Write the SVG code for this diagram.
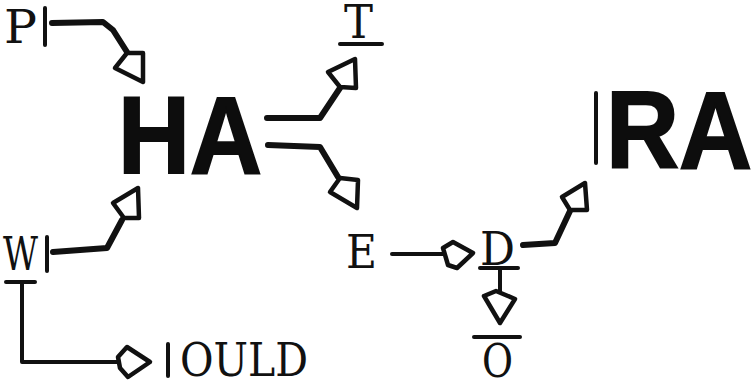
<svg xmlns="http://www.w3.org/2000/svg" width="756" height="385" viewBox="0 0 756 385">
<style>
.tw{font-family:"DejaVu Serif","Liberation Serif",serif;font-size:46px;fill:#111}
.big{font-family:"Liberation Sans",Arial,sans-serif;font-weight:bold;font-size:110px;fill:#0d0d0d;stroke:#0d0d0d;stroke-width:2}
.ln{fill:none;stroke:#111;stroke-width:6;stroke-linecap:round;stroke-linejoin:round}
.thin{stroke-width:4}
.bar{stroke:#111;stroke-width:4;stroke-linecap:round}
.ah{fill:#fff;stroke:#111;stroke-width:4.5;stroke-linejoin:round}
</style>
<rect width="756" height="385" fill="#fff"/>
<g id="node-P"><text class="tw" x="4" y="43" textLength="33" lengthAdjust="spacingAndGlyphs">P</text><line class="bar" x1="45" y1="8" x2="45" y2="45"/></g>
<g id="node-HA"><text class="big" x="118" y="173" textLength="144" lengthAdjust="spacingAndGlyphs">HA</text></g>
<g id="node-T"><text class="tw" x="344" y="38" textLength="29" lengthAdjust="spacingAndGlyphs">T</text><line class="bar" x1="340" y1="44" x2="382" y2="44"/></g>
<g id="node-W"><text class="tw" x="3" y="270" textLength="35" lengthAdjust="spacingAndGlyphs">W</text><line class="bar" x1="47" y1="237" x2="47" y2="271"/><line class="bar" x1="6" y1="282" x2="35" y2="282"/></g>
<g id="node-OULD"><line class="bar" x1="168" y1="344" x2="168" y2="376"/><text class="tw" x="180" y="376" textLength="128" lengthAdjust="spacingAndGlyphs">OULD</text></g>
<g id="node-E"><text class="tw" x="346" y="268" textLength="31" lengthAdjust="spacingAndGlyphs">E</text></g>
<g id="node-D"><text class="tw" x="480" y="265" textLength="35" lengthAdjust="spacingAndGlyphs">D</text><line class="bar" x1="480" y1="268" x2="518" y2="268"/></g>
<g id="node-O"><line class="bar" x1="474" y1="337" x2="520" y2="337"/><text class="tw" x="482" y="377" textLength="31" lengthAdjust="spacingAndGlyphs">O</text></g>
<g id="node-RA"><line class="bar" x1="596" y1="93" x2="596" y2="163"/><text class="big" x="606" y="168" textLength="146" lengthAdjust="spacingAndGlyphs">RA</text></g>
<g id="connectors">
<path class="ln" d="M52,23 L103,22 L113,30 L127,52"/>
<polygon class="ah" points="127,53 115,68 143,82 143,53"/>
<path class="ln" d="M53,252 L107,248 L122,220"/>
<polygon class="ah" points="124,218 113,203 138,188 139,218"/>
<path class="ln" d="M267,118 L320,118 L340,88"/>
<polygon class="ah" points="340,87 328,72 355,59 356,88"/>
<path class="ln" d="M268,145 L320,147 L338,177"/>
<polygon class="ah" points="340,178 330,192 357,208 358,180"/>
<path class="ln thin" d="M22,282 L22,362 L118,362"/>
<polygon class="ah" points="118,357 127,347 150,362 128,377 120,368"/>
<path class="ln thin" d="M392,254 L443,254"/>
<polygon class="ah" points="443,248 453,242 473,253 457,268 448,265"/>
<path class="ln thin" d="M500,268 L500,292"/>
<polygon class="ah" points="484,296 496,291 515,299 500,323"/>
<path class="ln" d="M523,245 L555,243 L570,211"/>
<polygon class="ah" points="570,210 562,197 585,183 587,210"/>
</g>
</svg>
